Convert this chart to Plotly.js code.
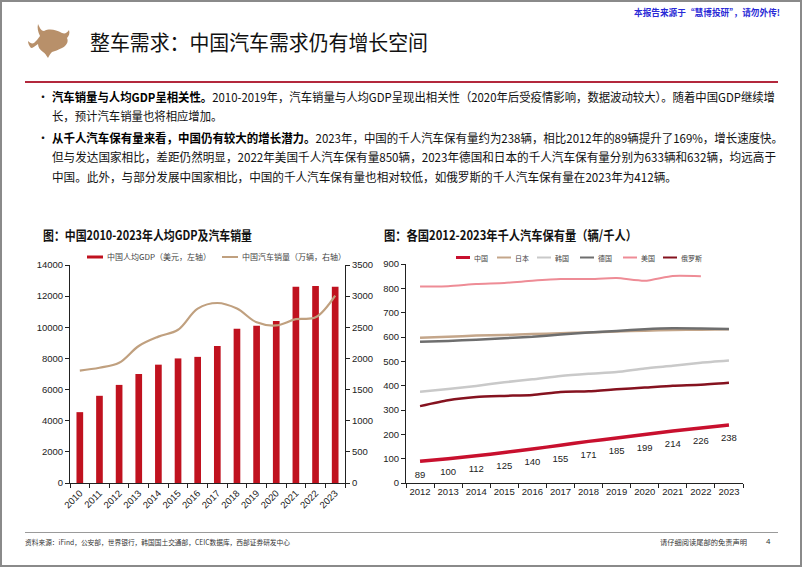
<!DOCTYPE html>
<html><head><meta charset="utf-8">
<script src="https://cdn.plot.ly/plotly-3.0.1.min.js"></script>
<style>
html,body{margin:0;padding:0;background:#fff;}
#page{position:relative;width:802px;height:567px;overflow:hidden;background:#fff;font-family:"Noto Sans CJK SC","Noto Sans",sans-serif;}
#chart{position:absolute;left:0;top:0;width:802px;height:567px;}
.t{position:absolute;white-space:nowrap;transform-origin:0 50%;line-height:1;color:#111;}
#frame{position:absolute;left:0;top:0;width:802px;height:567px;box-sizing:border-box;border:2px solid #8a8a8a;pointer-events:none;}
b{font-weight:700;color:#000;}
</style></head>
<body>
<div id="page">
  <div id="chart"></div>
  <svg style="position:absolute;left:0;top:0" width="802" height="567">
    <path d="M40 36 C38 32,37 28,38 24 C40 28,41 31,44 31 C50 28,56 30,62 33 C65 34,67 33,69 30 C70 33,69 36,67 38 C69 42,66 46,62 48 C58 50,55 51,52 52 C50 54,49 56,48 58 C46 55,45 53,43 52 C40 50,38 47,38 44 C35 46,33 48,31 48 C29 46,28 43,28 41 C30 43,32 44,34 43 C36 41,38 39,40 36 Z" fill="#B8906A"/>
  </svg>
  <div class="t" style="left:634px;top:7.5px;font-size:9px;font-weight:700;color:#2a2ad6" data-w="146">本报告来源于“慧博投研”，请勿外传!</div>
  <div class="t" style="left:90px;top:30.5px;font-size:21px;color:#111" data-w="338">整车需求：中国汽车需求仍有增长空间</div>
  <div style="position:absolute;left:25px;top:81px;width:753px;height:2px;background:#B3283C"></div>

  <div class="t" style="left:37px;top:91px;font-size:12px">•</div>
  <div class="t" style="left:52px;top:91px;font-size:12px" data-w="723"><b>汽车销量与人均GDP呈相关性。</b>2010-2019年，汽车销量与人均GDP呈现出相关性（2020年后受疫情影响，数据波动较大）。随着中国GDP继续增</div>
  <div class="t" style="left:52px;top:110px;font-size:12px" data-s="prev">长，预计汽车销量也将相应增加。</div>
  <div class="t" style="left:37px;top:132px;font-size:12px">•</div>
  <div class="t" style="left:52px;top:132px;font-size:12px" data-w="731"><b>从千人汽车保有量来看，中国仍有较大的增长潜力。</b>2023年，中国的千人汽车保有量约为238辆，相比2012年的89辆提升了169%，增长速度快。</div>
  <div class="t" style="left:52px;top:151px;font-size:12px" data-w="724">但与发达国家相比，差距仍然明显，2022年美国千人汽车保有量850辆，2023年德国和日本的千人汽车保有量分别为633辆和632辆，均远高于</div>
  <div class="t" style="left:52px;top:171px;font-size:12px" data-s="prev">中国。此外，与部分发展中国家相比，中国的千人汽车保有量也相对较低，如俄罗斯的千人汽车保有量在2023年为412辆。</div>

  <div class="t" style="left:43px;top:227.5px;font-size:13px;font-weight:700;color:#111" data-w="209">图：中国2010-2023年人均GDP及汽车销量</div>
  <div class="t" style="left:384px;top:227.5px;font-size:13px;font-weight:700;color:#111" data-w="253">图：各国2012-2023年千人汽车保有量（辆/千人）</div>

  <div style="position:absolute;left:25px;top:532px;width:753px;height:1px;background:#9a9a9a"></div>
  <div class="t" style="left:25px;top:538.5px;font-size:7px;color:#333" data-w="265">资料来源：iFind，公安部，世界银行，韩国国土交通部，CEIC数据库，西部证券研发中心</div>
  <div class="t" style="left:660px;top:538.5px;font-size:7px;color:#333" data-w="87">请仔细阅读尾部的免责声明</div>
  <div class="t" style="left:766px;top:538px;font-size:8px;color:#333;font-family:'Liberation Sans',Arial">4</div>
  <div id="frame"></div>
</div>
<script>
// ---- Left chart data ----
const gdpYears = ['2010','2011','2012','2013','2014','2015','2016','2017','2018','2019','2020','2021','2022','2023'];
const gdpPerCapita = [4550,5600,6300,7000,7600,8000,8100,8800,9900,10100,10400,12600,12650,12600];
const carSales = [1805,1850,1930,2200,2350,2460,2800,2890,2800,2580,2530,2630,2660,3010];
const leftNames = ['中国人均GDP（美元，左轴）','中国汽车销量（万辆，右轴）'];

// ---- Right chart data ----
const ownYears = ['2012','2013','2014','2015','2016','2017','2018','2019','2020','2021','2022','2023'];
const china   = [89,100,112,125,140,155,171,185,199,214,226,238];
const japan   = [597,601,606,608,612,615,619,623,626,629,630,632];
const korea   = [375,386,399,414,426,440,449,456,471,482,494,503];
const germany = [580,584,589,595,601,610,618,625,632,636,635,633];
const usa     = [808,809,818,822,831,838,838,842,831,851,850,null];
const russia  = [316,340,353,358,362,374,377,385,392,400,404,412];
const rightNames = ['中国','日本','韩国','德国','美国','俄罗斯'];

const W=802,H=567;
const px=x=>x/W, py=y=>1-y/H;
const tickFont={family:'"Liberation Sans Narrow","Liberation Sans",Arial,sans-serif',size:9.5,color:'#222'};
const axBase={showline:true,linecolor:'#222',linewidth:1,ticks:'outside',ticklen:4,tickcolor:'#222',tickwidth:1,
  showgrid:false,zeroline:false,tickfont:tickFont,fixedrange:true,exponentformat:'none'};

const barColor='#C0121F', salesColor='#C0A07F';
const rColors=['#C8102E','#C4A68A','#C9C9C9','#6E6E6E','#EE8C96','#85121F'];
const rWidths=[3.5,2.5,2.5,2.5,2,2.5];
const rSeries=[china,japan,korea,germany,usa,russia];

const traces=[
  {type:'bar',x:gdpYears,y:gdpPerCapita,xaxis:'x',yaxis:'y',width:0.34,marker:{color:barColor},name:leftNames[0],hoverinfo:'skip'},
  {type:'scatter',mode:'lines',x:gdpYears,y:carSales,xaxis:'x',yaxis:'y3',line:{color:salesColor,width:2.2,shape:'spline',smoothing:1},name:leftNames[1],hoverinfo:'skip'}
];
[4,1,3,2,5].forEach(i=>{
  traces.push({type:'scatter',mode:'lines',x:ownYears,y:rSeries[i],xaxis:'x2',yaxis:'y2',name:rightNames[i],
    line:{color:rColors[i],width:rWidths[i],shape:'spline',smoothing:0.6},hoverinfo:'skip'});
});
traces.push({type:'scatter',mode:'lines+markers+text',x:ownYears,y:china,xaxis:'x2',yaxis:'y2',name:rightNames[0],
  line:{color:rColors[0],width:rWidths[0],shape:'spline',smoothing:0.6},marker:{size:13,opacity:0,color:rColors[0]},
  text:china.map(String),textposition:'bottom center',cliponaxis:false,
  textfont:{family:tickFont.family,size:9.5,color:'#222'},hoverinfo:'skip'});

const shapes=[], annotations=[];
shapes.push({type:'rect',xref:'paper',yref:'paper',x0:px(87),x1:px(103),y0:py(258.5),y1:py(255.5),fillcolor:barColor,line:{width:0}});
shapes.push({type:'line',xref:'paper',yref:'paper',x0:px(222),x1:px(238),y0:py(257),y1:py(257),line:{color:salesColor,width:2}});
[[105,leftNames[0]],[240,leftNames[1]]].forEach(([x,t])=>annotations.push({xref:'paper',yref:'paper',x:px(x),y:py(257),text:t,showarrow:false,
  xanchor:'left',yanchor:'middle',font:{family:'"Noto Sans CJK SC",sans-serif',size:8,color:'#444'}}));
const legX=[456,497,537,580,623,663];
legX.forEach((x,i)=>{
  shapes.push({type:'line',xref:'paper',yref:'paper',x0:px(x),x1:px(x+14),y0:py(257.5),y1:py(257.5),line:{color:rColors[i],width:i===0?3:2}});
  annotations.push({xref:'paper',yref:'paper',x:px(x+15.5),y:py(257.5),text:rightNames[i],showarrow:false,xanchor:'left',yanchor:'middle',
    font:{family:'"Noto Sans CJK SC",sans-serif',size:7,color:'#444'}});
});

const layout={width:W,height:H,margin:{l:0,r:0,t:0,b:0},paper_bgcolor:'rgba(0,0,0,0)',plot_bgcolor:'rgba(0,0,0,0)',showlegend:false,
  xaxis:{...axBase,domain:[px(70),px(345)],anchor:'y',type:'category',tickson:'boundaries',tickangle:-45,range:[-0.5,13.5]},
  yaxis:{...axBase,domain:[py(483),py(265)],anchor:'x',range:[0,14000],dtick:2000,tickformat:'d'},
  yaxis3:{...axBase,overlaying:'y',side:'right',anchor:'x',range:[0,3500],dtick:500,tickformat:'d'},
  xaxis2:{...axBase,domain:[px(406),px(743)],anchor:'y2',type:'category',tickson:'boundaries',tickangle:0,range:[-0.5,11.5]},
  yaxis2:{...axBase,domain:[py(483),py(264)],anchor:'x2',range:[0,900],dtick:100,tickformat:'d'},
  shapes,annotations};
Plotly.newPlot('chart',traces,layout,{displayModeBar:false,staticPlot:true});

function fit(){
  let last=1;
  document.querySelectorAll('.t').forEach(el=>{
    el.style.transform='none';
    if(el.dataset.w){
      const w=el.getBoundingClientRect().width;
      last=(+el.dataset.w)/w;
      el.style.transform='scaleX('+last+')';
    } else if(el.dataset.s==='prev'){
      el.style.transform='scaleX('+last+')';
    }
  });
}
fit();
if(document.fonts&&document.fonts.ready) document.fonts.ready.then(fit);
</script>
</body></html>
